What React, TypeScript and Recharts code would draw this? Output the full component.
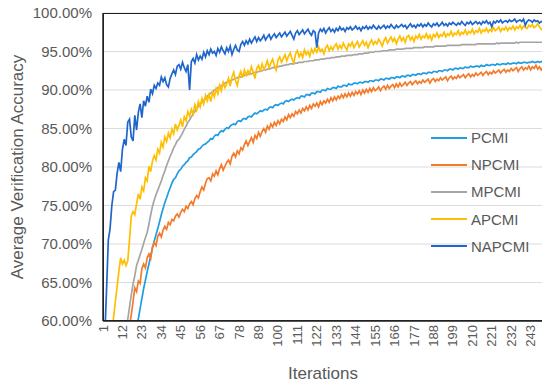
import React from 'react';
import { LineChart, Line, XAxis, YAxis, CartesianGrid, Legend } from 'recharts';

const FONT = "'Liberation Sans', Arial, Helvetica, sans-serif";
const TEXT_COLOR = '#595959';

const ITERATIONS = Array.from({ length: 250 }, (_, i) => i + 1);
const Y_TICKS = [60, 65, 70, 75, 80, 85, 90, 95, 100];

const PCMI = [
  35, 37, 39, 41, 43, 45, 46.5, 48, 49.5, 51,
  52, 53, 54, 55, 56, 56.8, 57.5, 58.2, 58.9, 59.6,
  60.3, 61.6, 62.9, 64.2, 65.3, 66.4, 67.4, 68.5, 69.5, 70.4,
  71.2, 72.0, 72.9, 73.8, 74.6, 75.4, 76.0, 76.7, 77.3, 77.9,
  78.4, 78.6, 79.1, 79.5, 79.7, 80.1, 80.3, 80.6, 80.8, 81.2,
  81.3, 81.6, 81.8, 82.0, 82.3, 82.4, 82.7, 82.9, 83.0, 83.2,
  83.4, 83.7, 83.6, 84.0, 84.2, 84.1, 84.5, 84.7, 84.6, 84.9,
  85.1, 85.0, 85.3, 85.5, 85.6, 85.5, 85.9, 86.0, 85.9, 86.2,
  86.3, 86.2, 86.5, 86.6, 86.5, 86.8, 87.0, 86.9, 87.1, 87.3,
  87.2, 87.4, 87.5, 87.4, 87.7, 87.8, 87.7, 88.0, 88.1, 88.0,
  88.2, 88.3, 88.2, 88.5, 88.6, 88.5, 88.7, 88.8, 88.7, 88.9,
  89.0, 88.9, 89.2, 89.2, 89.1, 89.4, 89.4, 89.3, 89.6, 89.6,
  89.5, 89.8, 89.8, 89.7, 90.0, 90.0, 89.9, 90.2, 90.1, 90.1,
  90.3, 90.3, 90.2, 90.5, 90.4, 90.4, 90.6, 90.6, 90.5, 90.8,
  90.7, 90.7, 90.9, 90.9, 90.8, 91.0, 91.0, 90.9, 91.1, 91.1,
  91.0, 91.2, 91.2, 91.1, 91.3, 91.3, 91.2, 91.4, 91.4, 91.3,
  91.5, 91.5, 91.4, 91.6, 91.6, 91.5, 91.7, 91.7, 91.6, 91.8,
  91.8, 91.7, 91.9, 91.9, 91.8, 92.0, 92.0, 91.9, 92.1, 92.1,
  92.0, 92.2, 92.2, 92.1, 92.3, 92.3, 92.2, 92.4, 92.4, 92.3,
  92.5, 92.5, 92.4, 92.6, 92.6, 92.5, 92.7, 92.7, 92.6, 92.8,
  92.8, 92.7, 92.9, 92.8, 92.8, 93.0, 92.9, 92.9, 93.1, 93.0,
  93.0, 93.1, 93.1, 93.0, 93.2, 93.1, 93.1, 93.3, 93.2, 93.2,
  93.3, 93.3, 93.2, 93.4, 93.3, 93.3, 93.4, 93.4, 93.3, 93.5,
  93.4, 93.4, 93.5, 93.5, 93.4, 93.6, 93.5, 93.5, 93.6, 93.6,
  93.5, 93.6, 93.6, 93.7, 93.6, 93.6, 93.7, 93.6, 93.7, 93.6,
];

const NPCMI = [
  38, 40, 42, 44, 46, 48, 49.5, 51, 52.5, 54,
  55, 56, 57, 57.8, 58.5, 59.2, 60.8, 62.5, 64.3, 63.8,
  65.2, 64.9, 66.8, 67.4, 66.9, 68.2, 68.7, 68.1, 69.6, 70.2,
  69.8, 71.0, 71.4, 70.9, 71.8, 72.3, 71.9, 72.8, 72.5, 73.2,
  73.0, 73.6, 73.9, 73.5, 74.1, 74.5, 74.2, 74.9, 74.6, 75.2,
  75.5, 75.1, 75.9, 76.3, 76.0, 76.8, 77.4, 77.0, 77.9, 78.5,
  78.6, 78.2, 79.1, 78.8, 79.5, 79.0, 79.8, 80.3, 79.6, 80.1,
  80.6, 80.9, 80.4, 81.4, 81.8, 81.3, 82.1, 81.7, 82.5, 82.2,
  82.9, 83.4, 82.8, 83.3, 83.8, 83.2, 84.1, 83.7, 84.5, 84.0,
  84.6, 85.0, 84.5, 85.3, 84.9, 85.6, 85.2, 85.8, 85.4, 86.0,
  85.6, 86.2, 85.9, 86.5, 86.1, 86.8, 86.4, 86.9, 86.6, 87.2,
  86.9, 87.4, 87.0, 87.6, 87.3, 87.8, 87.4, 88.0, 87.6, 88.2,
  87.9, 88.3, 87.8, 88.5, 88.1, 88.6, 88.3, 88.8, 88.4, 89.0,
  88.6, 89.1, 88.7, 89.2, 88.9, 89.4, 89.0, 89.5, 89.1, 89.6,
  89.2, 89.7, 89.3, 89.8, 89.5, 89.9, 89.4, 90.0, 89.6, 90.1,
  89.7, 90.2, 89.8, 90.3, 89.9, 90.1, 90.4, 89.9, 90.3, 90.5,
  90.1, 90.6, 90.2, 90.5, 90.7, 90.3, 90.8, 90.4, 90.9, 90.5,
  90.7, 91.0, 90.6, 90.9, 91.1, 90.7, 91.0, 91.2, 90.8, 91.1,
  90.9, 91.3, 91.0, 91.2, 91.4, 90.9, 91.3, 91.5, 91.1, 91.4,
  91.2, 91.6, 91.3, 91.5, 91.7, 91.2, 91.6, 91.8, 91.4, 91.7,
  91.5, 91.9, 91.6, 91.8, 92.0, 91.6, 91.9, 92.1, 91.7, 92.0,
  91.8, 92.2, 91.9, 92.1, 92.3, 91.9, 92.2, 92.4, 92.0, 92.3,
  92.1, 92.5, 92.2, 92.4, 92.6, 92.2, 92.5, 92.7, 92.3, 92.6,
  92.4, 92.8, 92.5, 92.7, 92.9, 92.4, 92.8, 93.0, 92.6, 92.9,
  92.7, 93.1, 92.6, 93.0, 92.8, 93.2, 92.7, 93.0, 92.6, 92.9,
];

const MPCMI = [
  40, 42, 44, 46, 48, 50, 51.5, 53, 54.5, 56,
  57, 58, 58.8, 59.5, 60.2, 61.8, 63.4, 64.8, 65.9, 67.2,
  67.9, 68.6, 69.3, 70.1, 70.8, 71.5, 72.6, 73.8, 74.9, 75.7,
  76.4, 77.0, 77.6, 78.2, 78.9, 79.5, 80.2, 80.8, 81.4, 81.9,
  82.5, 82.9, 83.4, 83.6, 84.0, 84.4, 84.9, 85.3, 85.8, 86.1,
  86.5, 86.9, 87.2, 87.6, 87.9, 88.2, 88.4, 88.7, 88.9, 89.2,
  89.4, 89.6, 89.8, 90.0, 90.1, 90.3, 90.4, 90.6, 90.7, 90.9,
  91.0, 91.1, 91.2, 91.3, 91.4, 91.5, 91.6, 91.7, 91.7, 91.8,
  91.9, 92.0, 92.0, 92.1, 92.1, 92.2, 92.3, 92.3, 92.4, 92.4,
  92.5, 92.6, 92.6, 92.7, 92.7, 92.8, 92.9, 92.9, 93.0, 93.0,
  93.1, 93.1, 93.2, 93.2, 93.3, 93.3, 93.4, 93.4, 93.4, 93.5,
  93.5, 93.6, 93.6, 93.6, 93.7, 93.7, 93.7, 93.8, 93.8, 93.8,
  93.9, 93.9, 93.9, 94.0, 94.0, 94.0, 94.1, 94.1, 94.1, 94.2,
  94.2, 94.2, 94.3, 94.3, 94.3, 94.4, 94.4, 94.4, 94.5, 94.5,
  94.5, 94.5, 94.6, 94.6, 94.6, 94.7, 94.7, 94.7, 94.8, 94.8,
  94.8, 94.9, 94.9, 94.9, 95.0, 95.0, 95.0, 95.0, 95.1, 95.1,
  95.1, 95.1, 95.2, 95.2, 95.2, 95.2, 95.3, 95.3, 95.3, 95.3,
  95.3, 95.4, 95.4, 95.4, 95.4, 95.4, 95.5, 95.5, 95.5, 95.5,
  95.5, 95.5, 95.6, 95.6, 95.6, 95.6, 95.6, 95.6, 95.7, 95.7,
  95.7, 95.7, 95.7, 95.7, 95.7, 95.8, 95.8, 95.8, 95.8, 95.8,
  95.8, 95.8, 95.8, 95.9, 95.9, 95.9, 95.9, 95.9, 95.9, 95.9,
  95.9, 95.9, 96.0, 96.0, 96.0, 96.0, 96.0, 96.0, 96.0, 96.0,
  96.0, 96.0, 96.0, 96.1, 96.0, 96.1, 96.1, 96.1, 96.1, 96.1,
  96.1, 96.1, 96.1, 96.1, 96.2, 96.1, 96.2, 96.2, 96.2, 96.2,
  96.2, 96.2, 96.2, 96.2, 96.2, 96.2, 96.2, 96.2, 96.2, 96.2,
];

const APCMI = [
  45, 48, 51, 54, 56, 58, 60.5, 62.5, 64.5, 66.5,
  68.2, 67.4, 67.9, 67.2, 67.8, 70.5, 73.6, 74.2, 73.8, 75.2,
  76.5, 75.8, 77.4, 76.9, 78.6, 78.2, 80.1, 79.4, 80.8, 81.5,
  80.9, 82.3, 81.8, 83.2, 82.6, 83.9, 83.3, 84.4, 83.8, 84.9,
  84.3, 85.6, 84.8, 85.4, 86.1, 85.2, 86.5, 86.0, 87.2, 86.6,
  87.5, 86.9, 88.1, 87.4, 88.5, 87.8, 88.9, 88.2, 89.3, 88.6,
  89.4, 88.5, 89.8, 89.1, 90.2, 89.5, 90.6, 89.9, 91.0, 90.3,
  90.8, 91.5, 90.5, 91.7, 92.3, 91.2, 90.6, 91.8, 92.4, 91.6,
  92.6, 91.9, 92.5, 92.1, 93.0, 92.3, 91.5, 92.8, 93.2, 92.4,
  93.4, 92.7, 93.1, 93.8, 92.9, 93.5, 94.0, 93.2, 92.6, 93.9,
  94.3, 93.6, 94.1, 94.6, 93.8, 94.4, 94.8, 94.0, 93.5, 94.7,
  95.1, 94.3, 94.8, 94.2, 95.2, 94.6, 95.0, 94.4, 95.3, 94.8,
  95.4, 94.9, 95.6, 95.0, 95.3, 94.7, 95.5, 95.8, 95.1, 95.6,
  95.2, 95.7, 96.0, 95.3, 95.8, 95.4, 96.1, 95.6, 95.2, 96.0,
  95.7, 96.2, 95.5, 95.9, 96.3, 95.6, 96.0, 96.4, 95.8, 96.2,
  95.5, 96.1, 96.5, 95.9, 96.3, 96.0, 96.6, 96.2, 95.7, 96.4,
  96.8, 96.1, 96.5, 96.9, 96.3, 96.7, 96.0, 96.6, 97.0, 96.4,
  96.8, 96.2, 96.9, 97.1, 96.5, 96.9, 96.3, 97.0, 96.7, 97.2,
  96.6, 97.0, 96.8, 97.3, 96.7, 97.1, 96.5, 97.2, 96.9, 97.4,
  96.8, 97.2, 97.0, 97.5, 96.9, 97.3, 97.1, 97.6, 97.0, 97.4,
  97.2, 97.7, 97.1, 97.5, 97.3, 97.8, 97.2, 97.6, 97.4, 97.9,
  97.3, 97.7, 97.5, 98.0, 97.4, 97.8, 97.6, 98.0, 97.5, 97.9,
  97.6, 98.1, 97.7, 97.9, 98.2, 97.6, 98.0, 97.8, 98.2, 97.7,
  98.1, 97.9, 98.3, 97.8, 98.2, 98.0, 98.4, 97.9, 98.3, 98.1,
  98.0, 98.4, 98.2, 98.5, 98.1, 98.3, 98.6, 98.2, 97.9, 97.7,
];

const NAPCMI = [
  50, 58, 64, 70.5, 72, 75, 76.8, 77, 79.2, 80.6,
  79.4, 82.3, 83.6, 82.8, 85.8, 86.2, 83.9, 83.4, 86.7, 84.8,
  87.1, 88.2, 86.4, 88.6, 87.9, 89.2, 88.4, 90.1, 89.5, 90.6,
  90.2, 90.9, 90.6, 91.7, 91.1, 91.6, 90.7, 90.4, 91.5, 92.1,
  92.6, 92.0, 93.1, 93.3, 92.7, 93.6, 92.9, 92.4, 93.3, 90.0,
  93.7, 94.1, 93.5, 94.6, 93.9, 94.4, 94.0, 94.9, 94.3, 95.1,
  94.6, 95.3, 94.8, 95.0, 94.5, 95.4, 94.9, 95.6, 95.1, 94.7,
  95.5, 95.0, 95.7, 94.6, 95.3, 95.8, 95.2, 95.0, 95.9, 96.3,
  95.8, 96.4, 96.0, 96.6, 96.1, 96.5, 96.9, 96.3, 96.8, 96.4,
  96.7, 97.1, 96.5, 96.9, 97.2, 96.6, 97.0, 97.3, 96.8, 97.1,
  97.4, 96.9, 97.2, 97.5, 97.0, 97.3, 97.6, 97.1, 96.6, 97.4,
  97.7, 97.2, 97.5, 97.8, 97.3, 97.6, 97.9, 97.4, 97.1, 97.7,
  97.5, 95.5, 97.4, 97.9, 97.6, 98.0, 97.4, 97.8, 98.1, 97.6,
  97.9, 97.5, 98.0, 97.7, 98.2, 97.8, 98.0, 97.6, 98.1, 97.9,
  98.2, 97.8, 98.0, 98.3, 97.9, 98.1, 97.7, 98.2, 98.0, 98.3,
  97.9, 98.2, 98.0, 98.4, 98.1, 97.9, 98.3, 98.0, 98.2, 98.4,
  98.0, 98.3, 98.1, 98.5, 98.2, 98.0, 98.4, 98.1, 98.3, 98.5,
  98.2, 98.4, 98.0, 98.3, 98.6, 98.2, 98.4, 98.1, 98.5, 98.3,
  98.6, 98.2, 98.5, 98.3, 98.7, 98.4, 98.2, 98.6, 98.4, 98.7,
  98.3, 98.5, 98.8, 98.4, 98.6, 98.3, 98.7, 98.5, 98.8, 98.6,
  98.4, 98.7, 98.5, 98.9, 98.6, 98.4, 98.8, 98.6, 98.9, 98.5,
  98.7, 98.9, 98.6, 98.8, 98.5, 98.9, 98.7, 99.0, 98.6, 98.8,
  98.2, 98.9, 98.7, 99.0, 98.8, 99.1, 98.7, 98.9, 99.0, 98.8,
  99.1, 98.9, 99.0, 99.2, 98.8, 99.0, 99.1, 98.9, 99.2, 98.4,
  98.9, 99.1, 99.0, 98.8, 99.1, 98.9, 99.0, 98.7, 98.9, 98.8,
];

const SERIES = [
  { key: 'PCMI', values: PCMI, color: '#1f9de0' },
  { key: 'NPCMI', values: NPCMI, color: '#f47a2c' },
  { key: 'MPCMI', values: MPCMI, color: '#a5a5a5' },
  { key: 'APCMI', values: APCMI, color: '#ffbf00' },
  { key: 'NAPCMI', values: NAPCMI, color: '#1f66cc' },
];

const data = ITERATIONS.map((it, i) => {
  const row: any = { iteration: it };
  SERIES.forEach((s) => { row[s.key] = s.values[i]; });
  return row;
});

const XTick = ({ x, y, payload }: any) => (
  <text
    x={x}
    y={y}
    dy="0.35em"
    transform={`rotate(-90 ${x} ${y})`}
    textAnchor="end"
    fontSize={13}
    fontFamily={FONT}
    fill={TEXT_COLOR}
  >
    {payload.value}
  </text>
);

const renderLegend = () => (
  <div style={{ fontFamily: FONT, fontSize: 15, color: TEXT_COLOR }}>
    {SERIES.map((s) => (
      <div key={s.key} style={{ display: 'flex', alignItems: 'center', height: 27.2 }}>
        <span style={{ display: 'inline-block', width: 36, height: 2, background: s.color }} />
        <span style={{ marginLeft: 4 }}>{s.key}</span>
      </div>
    ))}
  </div>
);

export default function App() {
  return (
    <div style={{ position: 'relative', width: 550, height: 390, margin: -8, background: '#fff' }}>
      <LineChart width={550} height={390} data={data} margin={{ top: 13, right: 7, left: 0, bottom: 0 }}>
        <CartesianGrid vertical={false} stroke="#dcdcdc" strokeWidth={1.2} />
        <XAxis
          dataKey="iteration"
          interval={10}
          height={69}
          tick={<XTick />}
          tickLine={false}
          tickSize={0}
          tickMargin={4}
          axisLine={{ stroke: '#222', strokeWidth: 1.5 }}
          label={{
            content: () => (
              <text x={323} y={379} textAnchor="middle" fontSize={17} fontFamily={FONT} fill={TEXT_COLOR}>
                Iterations
              </text>
            ),
          }}
        />
        <YAxis
          domain={[60, 100]}
          ticks={Y_TICKS}
          interval={0}
          allowDataOverflow
          width={103}
          tickLine={false}
          tickSize={0}
          tickMargin={11}
          tick={{ fontSize: 15, fill: TEXT_COLOR, fontFamily: FONT }}
          tickFormatter={(v: number) => `${v.toFixed(2)}%`}
          axisLine={{ stroke: '#222', strokeWidth: 1.5 }}
          label={{
            content: () => (
              <text
                x={17}
                y={167}
                transform="rotate(-90 17 167)"
                textAnchor="middle"
                dominantBaseline="central"
                fontSize={17}
                fontFamily={FONT}
                fill={TEXT_COLOR}
              >
                Average Verification Accuracy
              </text>
            ),
          }}
        />
        <Legend
          layout="horizontal"
          verticalAlign="middle"
          align="center"
          content={renderLegend}
          wrapperStyle={{ left: 431, top: 124, width: 110 }}
        />
        {SERIES.map((s) => (
          <Line
            key={s.key}
            dataKey={s.key}
            stroke={s.color}
            strokeWidth={1.7}
            dot={false}
            isAnimationActive={false}
          />
        ))}
      </LineChart>
      <div
        style={{
          position: 'absolute',
          left: 103,
          top: 13,
          width: 440,
          height: 308,
          border: '1.5px solid #222',
          boxSizing: 'border-box',
          pointerEvents: 'none',
        }}
      />
    </div>
  );
}
